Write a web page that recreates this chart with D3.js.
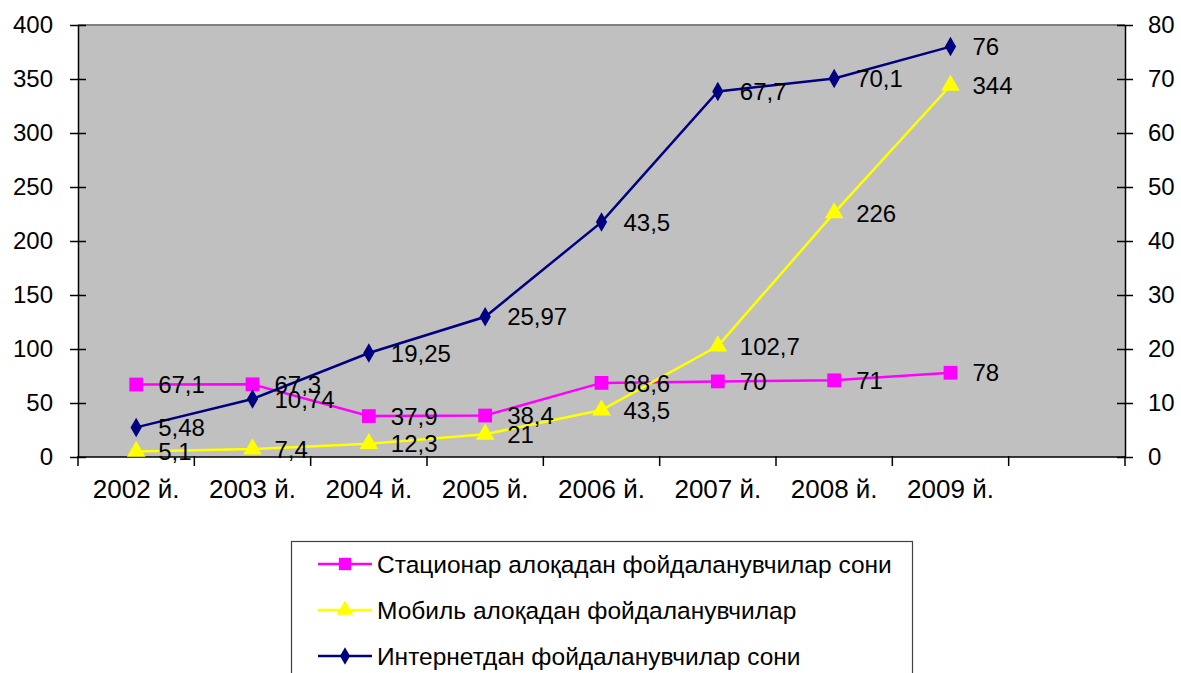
<!DOCTYPE html>
<html>
<head>
<meta charset="utf-8">
<script src="https://cdn.jsdelivr.net/npm/d3@7"></script>
<style>
  body { margin: 0; background: #fff; }
  svg text { font-family: "Liberation Sans", Arial, sans-serif; fill: #000; }
</style>
</head>
<body>
<svg id="chart" width="1181" height="673"></svg>
<script>
//
// Data
//
const years = ['2002 й.', '2003 й.', '2004 й.', '2005 й.', '2006 й.', '2007 й.', '2008 й.', '2009 й.', ''];
const fixedUsers = [67.1, 67.3, 37.9, 38.4, 68.6, 70, 71, 78];
const mobileUsers = [5.1, 7.4, 12.3, 21, 43.5, 102.7, 226, 344];
const internetUsers = [5.48, 10.74, 19.25, 25.97, 43.5, 67.7, 70.1, 76];
const leftTicks = [0, 50, 100, 150, 200, 250, 300, 350, 400];
const rightTicks = [0, 10, 20, 30, 40, 50, 60, 70, 80];
const seriesNames = [
  'Стационар алоқадан фойдаланувчилар сони',
  'Мобиль алоқадан фойдаланувчилар',
  'Интернетдан фойдаланувчилар сони'
];

//
// Layout
//
const plot = {left: 78, right: 1125, top: 25, bottom: 457};
const svg = d3.select('#chart');

const x = d3.scaleBand().domain(d3.range(years.length)).range([plot.left, plot.right]);
const yLeft = d3.scaleLinear().domain([0, 400]).range([plot.bottom, plot.top]);
const yRight = d3.scaleLinear().domain([0, 80]).range([plot.bottom, plot.top]);
const cx = i => x(i) + x.bandwidth() / 2;

// plot background
svg.append('rect')
    .attr('x', plot.left).attr('y', plot.top)
    .attr('width', plot.right - plot.left).attr('height', plot.bottom - plot.top)
    .attr('fill', '#c0c0c0');
svg.append('line')
    .attr('x1', plot.left).attr('x2', plot.right)
    .attr('y1', plot.top).attr('y2', plot.top)
    .attr('stroke', '#808080').attr('stroke-width', 2);

// axes
function styleAxis(g) {
  g.select('.domain').attr('stroke', '#000').attr('stroke-width', 1.5);
  g.selectAll('.tick line').attr('stroke', '#000').attr('stroke-width', 1.5);
  g.selectAll('.tick text').style('font-size', '24px');
}

const leftAxis = svg.append('g')
    .attr('transform', `translate(${plot.left},0)`)
    .call(d3.axisLeft(yLeft).tickValues(leftTicks).tickSize(8).tickSizeOuter(0).tickPadding(17));
leftAxis.selectAll('.tick line').attr('x2', 8).attr('x1', -8);
styleAxis(leftAxis);

const rightAxis = svg.append('g')
    .attr('transform', `translate(${plot.right},0)`)
    .call(d3.axisRight(yRight).tickValues(rightTicks).tickSize(8).tickSizeOuter(0).tickPadding(15));
rightAxis.selectAll('.tick line').attr('x1', -8).attr('x2', 8);
styleAxis(rightAxis);

// bottom axis: ticks at category boundaries
const boundaries = d3.range(years.length + 1).map(i => i === years.length ? plot.right : x(i));
const bottom = svg.append('g');
bottom.append('line')
    .attr('x1', plot.left).attr('x2', plot.right)
    .attr('y1', plot.bottom).attr('y2', plot.bottom)
    .attr('stroke', '#000').attr('stroke-width', 1.5);
bottom.selectAll('line.tick').data(boundaries).join('line')
    .attr('class', 'tick')
    .attr('x1', d => d).attr('x2', d => d)
    .attr('y1', plot.bottom - 1).attr('y2', plot.bottom + 9)
    .attr('stroke', '#000').attr('stroke-width', 1.5);
bottom.selectAll('text').data(years).join('text')
    .attr('x', (d, i) => cx(i)).attr('y', 498)
    .attr('text-anchor', 'middle')
    .style('font-size', '26px')
    .text(d => d);

// series
const series = [
  {name: seriesNames[0], values: fixedUsers, y: yLeft, color: '#ff00ff', symbol: d3.symbolSquare, size: 190},
  {name: seriesNames[1], values: mobileUsers, y: yLeft, color: '#ffff00', symbol: d3.symbolTriangle, size: 150},
  {name: seriesNames[2], values: internetUsers, y: yRight, color: '#000080', symbol: d3.symbolDiamond, size: 110}
];

const fmt = v => String(v).replace('.', ',');

// lines first
series.forEach(s => {
  const line = d3.line().x((d, i) => cx(i)).y(d => s.y(d));
  svg.append('path')
      .datum(s.values)
      .attr('d', line)
      .attr('fill', 'none')
      .attr('stroke', s.color)
      .attr('stroke-width', 2.5);
});

series.forEach(s => {
  svg.append('g').selectAll('path').data(s.values).join('path')
      .attr('transform', (d, i) => `translate(${cx(i)},${s.y(d)})`)
      .attr('d', d3.symbol().type(s.symbol).size(s.size))
      .attr('fill', s.color);
});

series.forEach(s => {
  svg.append('g').selectAll('text').data(s.values).join('text')
      .attr('x', (d, i) => cx(i) + 22)
      .attr('y', d => s.y(d))
      .attr('dy', '0.36em')
      .style('font-size', '24px')
      .text(d => fmt(d));
});

// legend
const legend = svg.append('g');
legend.append('rect')
    .attr('x', 291.5).attr('y', 541.5)
    .attr('width', 621).attr('height', 140)
    .attr('fill', '#fff').attr('stroke', '#404040').attr('stroke-width', 1.2);

series.forEach((s, i) => {
  const ly = 564 + i * 46;
  legend.append('line')
      .attr('x1', 318).attr('x2', 372)
      .attr('y1', ly).attr('y2', ly)
      .attr('stroke', s.color).attr('stroke-width', 2.5);
  legend.append('path')
      .attr('transform', `translate(345,${ly})`)
      .attr('d', d3.symbol().type(s.symbol).size(s.size * 0.8))
      .attr('fill', s.color);
  legend.append('text')
      .attr('x', 377).attr('y', ly)
      .attr('dy', '0.36em')
      .style('font-size', '24.5px')
      .text(s.name);
});
</script>
</body>
</html>
